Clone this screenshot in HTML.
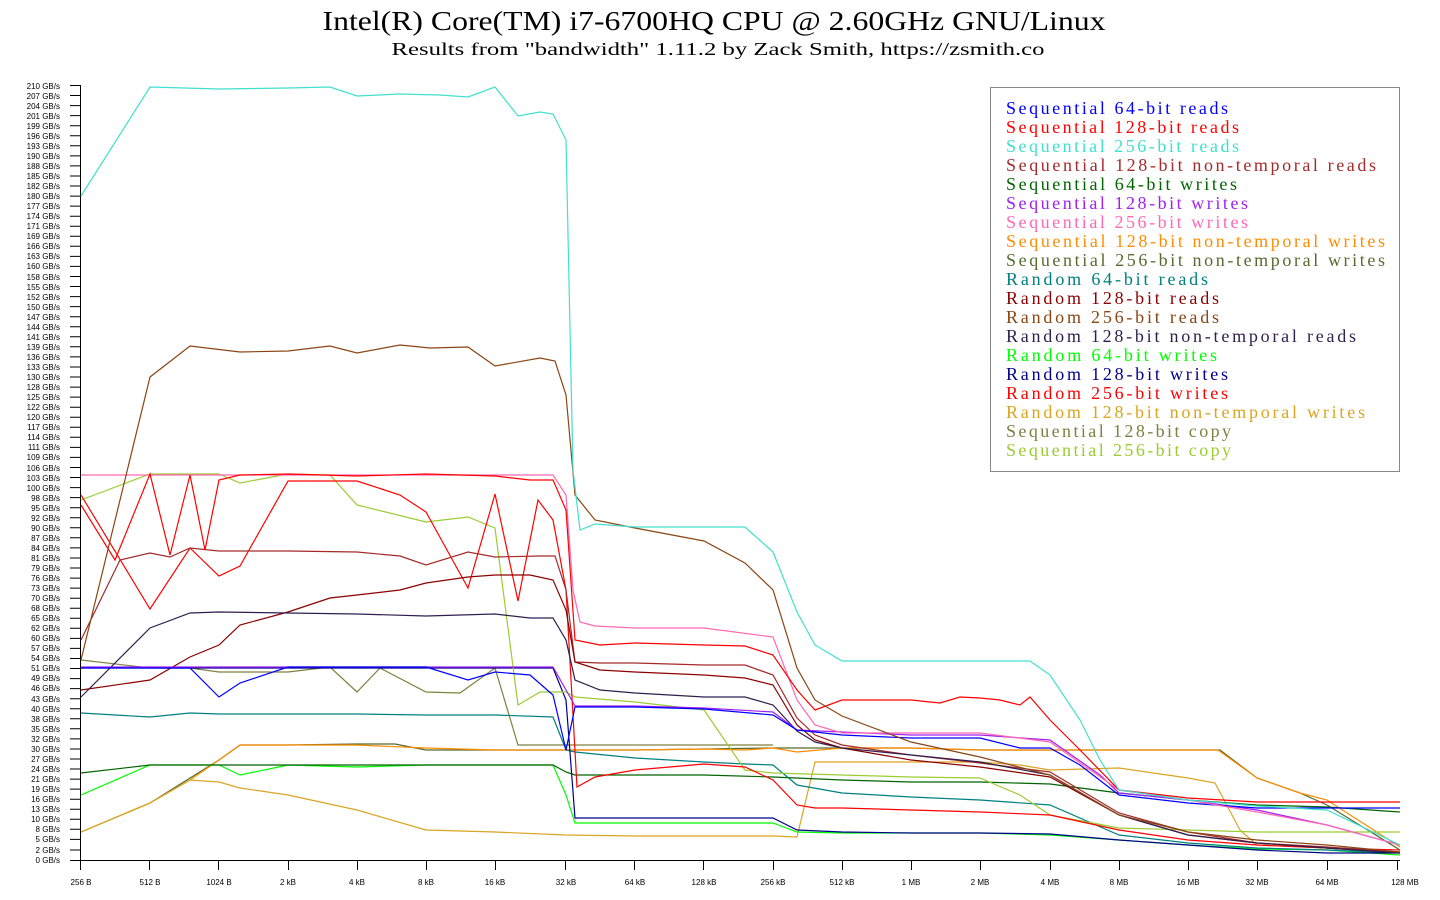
<!DOCTYPE html>
<html><head><meta charset="utf-8"><style>
html,body{margin:0;padding:0;background:#fff;}
svg{display:block;}
.yl{font-family:"Liberation Sans",sans-serif;font-size:8px;text-anchor:end;fill:#000;}
.xl{font-family:"Liberation Sans",sans-serif;font-size:8px;text-anchor:middle;fill:#000;}
.lg{font-family:"Liberation Serif",serif;font-size:18px;}
polyline{fill:none;stroke-width:1.2;}
</style></head><body>
<svg width="1440" height="900" viewBox="0 0 1440 900" xmlns="http://www.w3.org/2000/svg">
<rect width="1440" height="900" fill="#fff"/>
<text x="714" y="30" text-anchor="middle" font-family="Liberation Serif,serif" font-size="27" textLength="783" lengthAdjust="spacingAndGlyphs">Intel(R) Core(TM) i7-6700HQ CPU @ 2.60GHz GNU/Linux</text>
<text x="718" y="55" text-anchor="middle" font-family="Liberation Serif,serif" font-size="18" textLength="653" lengthAdjust="spacingAndGlyphs">Results from "bandwidth" 1.11.2 by Zack Smith, https://zsmith.co</text>

<g stroke="#000" stroke-width="1">
<line x1="80.5" y1="85" x2="80.5" y2="860.5"/>
<line x1="70" y1="860.5" x2="1400" y2="860.5"/>
<path d="M70 850h10M70 839.4h10M70 829.3h10M70 819.3h10M70 809.2h10M70 799.2h10M70 789.1h10M70 779.1h10M70 769h10M70 759h10M70 749h10M70 738.9h10M70 728.8h10M70 718.8h10M70 708.7h10M70 698.7h10M70 688.6h10M70 678.6h10M70 668.5h10M70 658.5h10M70 648.4h10M70 638.4h10M70 628.3h10M70 618.3h10M70 608.2h10M70 598.2h10M70 588.1h10M70 578.1h10M70 568h10M70 558h10M70 547.9h10M70 537.8h10M70 527.8h10M70 517.7h10M70 507.7h10M70 497.6h10M70 487.6h10M70 477.5h10M70 467.5h10M70 457.4h10M70 447.4h10M70 437.3h10M70 427.3h10M70 417.2h10M70 407.2h10M70 397.1h10M70 387.1h10M70 377h10M70 367h10M70 356.9h10M70 346.8h10M70 336.8h10M70 326.7h10M70 316.7h10M70 306.6h10M70 296.6h10M70 286.5h10M70 276.5h10M70 266.4h10M70 256.4h10M70 246.3h10M70 236.3h10M70 226.2h10M70 216.2h10M70 206.1h10M70 196.1h10M70 186h10M70 176h10M70 165.9h10M70 155.9h10M70 145.8h10M70 135.7h10M70 125.7h10M70 115.6h10M70 105.6h10M70 95.5h10M70 85.5h10"/>
<path d="M80.5 860v10M149.5 860v10M218.5 860v10M288.5 860v10M357.5 860v10M426.5 860v10M495.5 860v10M565.5 860v10M634.5 860v10M703.5 860v10M773.5 860v10M842.5 860v10M911.5 860v10M980.5 860v10M1050.5 860v10M1119.5 860v10M1188.5 860v10M1257.5 860v10M1327.5 860v10M1397.5 860v10"/>
</g>
<g class="yl">
<text x="60" y="863">0 GB/s</text><text x="60" y="853">2 GB/s</text><text x="60" y="842">5 GB/s</text><text x="60" y="832">8 GB/s</text><text x="60" y="822">10 GB/s</text><text x="60" y="812">13 GB/s</text><text x="60" y="802">16 GB/s</text><text x="60" y="792">19 GB/s</text><text x="60" y="782">21 GB/s</text><text x="60" y="772">24 GB/s</text><text x="60" y="762">27 GB/s</text><text x="60" y="752">30 GB/s</text><text x="60" y="742">32 GB/s</text><text x="60" y="732">35 GB/s</text><text x="60" y="722">38 GB/s</text><text x="60" y="712">40 GB/s</text><text x="60" y="702">43 GB/s</text><text x="60" y="691">46 GB/s</text><text x="60" y="681">49 GB/s</text><text x="60" y="671">51 GB/s</text><text x="60" y="661">54 GB/s</text><text x="60" y="651">57 GB/s</text><text x="60" y="641">60 GB/s</text><text x="60" y="631">62 GB/s</text><text x="60" y="621">65 GB/s</text><text x="60" y="611">68 GB/s</text><text x="60" y="601">70 GB/s</text><text x="60" y="591">73 GB/s</text><text x="60" y="581">76 GB/s</text><text x="60" y="571">79 GB/s</text><text x="60" y="561">81 GB/s</text><text x="60" y="551">84 GB/s</text><text x="60" y="541">87 GB/s</text><text x="60" y="531">90 GB/s</text><text x="60" y="521">92 GB/s</text><text x="60" y="511">95 GB/s</text><text x="60" y="501">98 GB/s</text><text x="60" y="491">100 GB/s</text><text x="60" y="481">103 GB/s</text><text x="60" y="471">106 GB/s</text><text x="60" y="460">109 GB/s</text><text x="60" y="450">111 GB/s</text><text x="60" y="440">114 GB/s</text><text x="60" y="430">117 GB/s</text><text x="60" y="420">120 GB/s</text><text x="60" y="410">122 GB/s</text><text x="60" y="400">125 GB/s</text><text x="60" y="390">128 GB/s</text><text x="60" y="380">130 GB/s</text><text x="60" y="370">133 GB/s</text><text x="60" y="360">136 GB/s</text><text x="60" y="350">139 GB/s</text><text x="60" y="340">141 GB/s</text><text x="60" y="330">144 GB/s</text><text x="60" y="320">147 GB/s</text><text x="60" y="310">150 GB/s</text><text x="60" y="300">152 GB/s</text><text x="60" y="290">155 GB/s</text><text x="60" y="280">158 GB/s</text><text x="60" y="269">160 GB/s</text><text x="60" y="259">163 GB/s</text><text x="60" y="249">166 GB/s</text><text x="60" y="239">169 GB/s</text><text x="60" y="229">171 GB/s</text><text x="60" y="219">174 GB/s</text><text x="60" y="209">177 GB/s</text><text x="60" y="199">180 GB/s</text><text x="60" y="189">182 GB/s</text><text x="60" y="179">185 GB/s</text><text x="60" y="169">188 GB/s</text><text x="60" y="159">190 GB/s</text><text x="60" y="149">193 GB/s</text><text x="60" y="139">196 GB/s</text><text x="60" y="129">199 GB/s</text><text x="60" y="119">201 GB/s</text><text x="60" y="109">204 GB/s</text><text x="60" y="99">207 GB/s</text><text x="60" y="89">210 GB/s</text>
</g>
<g class="xl">
<text x="81" y="885">256 B</text><text x="150" y="885">512 B</text><text x="219" y="885">1024 B</text><text x="288" y="885">2 kB</text><text x="357" y="885">4 kB</text><text x="426" y="885">8 kB</text><text x="495" y="885">16 kB</text><text x="566" y="885">32 kB</text><text x="635" y="885">64 kB</text><text x="704" y="885">128 kB</text><text x="773" y="885">256 kB</text><text x="842" y="885">512 kB</text><text x="911" y="885">1 MB</text><text x="980" y="885">2 MB</text><text x="1050" y="885">4 MB</text><text x="1119" y="885">8 MB</text><text x="1188" y="885">16 MB</text><text x="1257" y="885">32 MB</text><text x="1327" y="885">64 MB</text><text x="1405" y="885">128 MB</text>
</g>

<!-- series -->
<polyline stroke="#556b2f" points="81,832 150,803 219,760 240,745 288,745 357,744 395,744 426,750 495,750 566,750 635,750 704,749 773,748 842,748 911,748 980,750 1050,750 1119,750 1188,750 1220,750 1257,778 1300,793 1327,805 1400,850"/>
<polyline stroke="#ff8c00" points="81,832 150,803 190,780 219,760 240,745 288,745 357,745 426,748 495,750 566,750 635,750 704,749 745,750 773,748 797,752 842,748 911,748 980,750 1050,750 1119,750 1188,750 1218,750 1257,778 1300,793 1327,800 1400,847"/>
<polyline stroke="#808040" points="81,660 150,668 190,668 219,672 288,672 330,667 357,692 380,668 426,692 460,693 495,668 518,745 553,745 566,745 773,745"/>
<polyline stroke="#daa520" points="81,832 150,803 190,780 219,782 240,788 288,795 357,810 426,830 495,832 566,835 635,836 704,836 773,836 797,837 815,762 842,762 911,762 980,762 1020,765 1050,770 1119,768 1188,778 1215,783 1240,830 1257,845 1327,848 1400,852"/>
<polyline stroke="#00ff00" points="81,795 150,765 219,765 240,775 288,765 357,767 426,765 495,765 553,765 566,795 575,823 635,823 704,823 773,823 797,832 842,833 911,833 980,833 1050,835 1119,840 1188,845 1257,849 1327,850 1400,855"/>
<polyline stroke="#006400" points="81,773 150,765 219,765 288,765 357,765 426,765 495,765 553,765 566,772 575,775 635,775 704,775 773,777 842,780 911,782 980,782 1050,784 1119,793 1188,800 1257,805 1327,807 1400,812"/>
<polyline stroke="#008080" points="81,713 150,717 190,713 219,714 288,714 357,714 426,715 495,715 553,717 566,750 575,752 635,758 704,762 745,764 773,765 797,785 842,793 911,797 980,800 1050,805 1119,835 1188,843 1257,848 1327,850 1400,853"/>
<polyline stroke="#00008b" points="81,668 150,668 288,668 426,668 553,668 566,700 575,818 635,818 704,818 773,818 797,830 842,832 911,833 980,833 1050,834 1119,840 1188,845 1257,850 1327,853 1400,853"/>
<polyline stroke="#9acd32" points="81,500 150,474 219,474 240,483 288,474 330,475 357,505 426,522 468,517 495,528 518,705 540,692 566,692 575,697 635,702 704,710 745,770 773,773 842,775 911,777 980,778 1020,795 1050,815 1119,828 1188,830 1257,832 1327,832 1400,832"/>
<polyline stroke="#ff0000" points="81,495 150,609 190,548 219,576 240,566 288,481 357,481 400,495 426,512 468,588 495,494 518,601 538,500 553,520 566,590 577,787 595,777 635,770 704,764 745,767 773,780 797,805 815,808 842,808 911,810 980,812 1050,815 1119,830 1188,840 1257,845 1327,848 1400,850"/>
<polyline stroke="#a52a2a" points="81,640 120,560 150,553 170,557 190,548 219,551 288,551 357,552 400,556 426,565 468,552 495,557 540,556 555,556 566,590 575,662 600,663 635,663 704,665 745,665 773,675 797,718 815,735 842,745 911,755 980,763 1050,772 1119,813 1188,832 1257,843 1327,847 1400,852"/>
<polyline stroke="#8b0000" points="81,690 150,680 190,657 219,645 240,625 288,612 330,598 357,595 400,590 426,583 468,577 495,575 530,575 553,580 566,610 575,662 600,670 635,672 704,675 745,678 773,685 797,725 815,740 842,748 911,760 980,767 1050,777 1119,815 1188,835 1257,843 1327,848 1400,853"/>
<polyline stroke="#2f1f4f" points="81,697 150,628 190,613 219,612 288,613 357,614 426,616 495,614 530,618 553,618 566,640 575,680 600,690 635,693 704,697 745,697 773,705 797,731 815,742 842,748 911,755 980,762 1050,775 1119,815 1188,835 1257,843 1327,848 1400,853"/>
<polyline stroke="#a020f0" points="81,667 288,667 426,667 553,667 566,690 575,706 635,706 704,708 773,712 797,730 842,732 911,735 980,735 1050,740 1100,775 1119,793 1188,800 1257,810 1327,825 1400,845"/>
<polyline stroke="#0000ff" points="81,668 150,668 190,668 219,697 240,683 288,667 357,667 426,667 468,680 495,672 530,675 553,695 566,750 575,707 635,707 704,709 773,715 797,730 842,735 911,738 980,738 1020,748 1050,748 1080,765 1119,795 1188,803 1257,808 1327,808 1400,808"/>
<polyline stroke="#ff69b4" points="81,475 288,475 426,475 553,475 566,495 573,590 580,622 595,626 635,628 704,628 773,637 797,700 815,725 842,733 911,733 980,733 1050,742 1119,790 1188,800 1257,812 1327,825 1400,845"/>
<polyline stroke="#ff0000" points="81,505 115,560 150,474 170,555 190,475 205,550 219,480 240,475 288,474 357,476 426,474 495,476 530,480 553,480 566,510 575,640 600,645 635,643 704,645 745,646 773,655 797,690 815,710 842,700 911,700 940,703 960,697 980,698 1000,700 1020,705 1030,697 1050,720 1080,750 1119,790 1188,798 1257,802 1327,802 1400,802"/>
<polyline stroke="#8b4513" points="81,660 150,377 190,346 240,352 288,351 330,346 357,353 400,345 430,348 468,347 495,366 540,358 555,361 566,395 575,495 595,520 635,528 704,541 745,563 773,590 797,668 815,700 842,716 911,742 980,757 1050,775 1119,815 1188,832 1257,840 1327,845 1400,852"/>
<polyline stroke="#40e0d0" points="81,196 150,87 219,89 288,88 330,87 357,96 400,94 440,95 468,97 495,87 518,116 540,112 553,114 566,140 573,470 580,530 595,524 635,527 704,527 745,527 773,552 797,612 815,645 842,661 911,661 980,661 1030,661 1050,675 1080,720 1100,760 1119,790 1188,800 1257,806 1327,810 1400,845"/>

<!-- legend -->
<rect x="990.5" y="87.5" width="409" height="384" fill="#fff" stroke="#888"/>
<g class="lg">
<text x="1006" y="114" fill="#0000ff" textLength="222" lengthAdjust="spacing">Sequential 64-bit reads</text>
<text x="1006" y="133" fill="#ff0000" textLength="233" lengthAdjust="spacing">Sequential 128-bit reads</text>
<text x="1006" y="152" fill="#40e0d0" textLength="233" lengthAdjust="spacing">Sequential 256-bit reads</text>
<text x="1006" y="171" fill="#a52a2a" textLength="370" lengthAdjust="spacing">Sequential 128-bit non-temporal reads</text>
<text x="1006" y="190" fill="#006400" textLength="231" lengthAdjust="spacing">Sequential 64-bit writes</text>
<text x="1006" y="209" fill="#a020f0" textLength="242" lengthAdjust="spacing">Sequential 128-bit writes</text>
<text x="1006" y="228" fill="#ff69b4" textLength="242" lengthAdjust="spacing">Sequential 256-bit writes</text>
<text x="1006" y="247" fill="#ff8c00" textLength="379" lengthAdjust="spacing">Sequential 128-bit non-temporal writes</text>
<text x="1006" y="266" fill="#556b2f" textLength="379" lengthAdjust="spacing">Sequential 256-bit non-temporal writes</text>
<text x="1006" y="285" fill="#008080" textLength="202" lengthAdjust="spacing">Random 64-bit reads</text>
<text x="1006" y="304" fill="#8b0000" textLength="213" lengthAdjust="spacing">Random 128-bit reads</text>
<text x="1006" y="323" fill="#8b4513" textLength="213" lengthAdjust="spacing">Random 256-bit reads</text>
<text x="1006" y="342" fill="#2f1f4f" textLength="350" lengthAdjust="spacing">Random 128-bit non-temporal reads</text>
<text x="1006" y="361" fill="#00ff00" textLength="211" lengthAdjust="spacing">Random 64-bit writes</text>
<text x="1006" y="380" fill="#00008b" textLength="222" lengthAdjust="spacing">Random 128-bit writes</text>
<text x="1006" y="399" fill="#ff0000" textLength="222" lengthAdjust="spacing">Random 256-bit writes</text>
<text x="1006" y="418" fill="#daa520" textLength="359" lengthAdjust="spacing">Random 128-bit non-temporal writes</text>
<text x="1006" y="437" fill="#808040" textLength="225" lengthAdjust="spacing">Sequential 128-bit copy</text>
<text x="1006" y="456" fill="#9acd32" textLength="225" lengthAdjust="spacing">Sequential 256-bit copy</text>
</g>
</svg>
</body></html>
